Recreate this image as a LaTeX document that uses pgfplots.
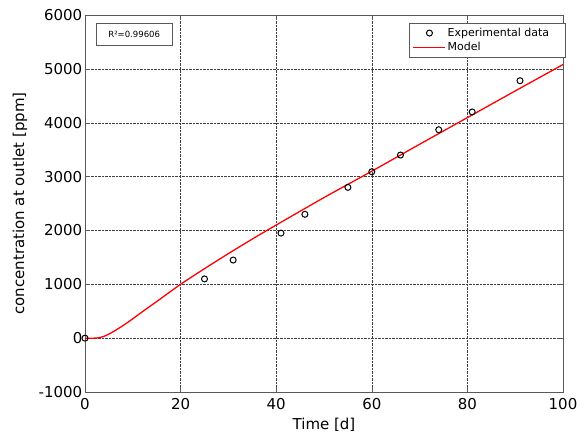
\documentclass[border=0pt]{standalone}
\usepackage{pgfplots}
\pgfplotsset{compat=1.18}
\usetikzlibrary{calc}
\usepackage{fontspec}
\setmainfont{DejaVu Sans}

\begin{document}
\begin{tikzpicture}
\begin{axis}[
    scale only axis,
    width=478pt, height=377pt,
    xmin=0, xmax=100,
    ymin=-1000, ymax=6000,
    xtick={0,20,...,100},
    ytick={-1000,0,...,6000},
    tick align=inside,
    tick pos=both,
    major tick length=5pt,
    grid=major,
    major grid style={densely dotted, black!75},
    axis line style={black!65},
    every tick/.style={black!65},
    xlabel={Time [d]},
    ylabel={concentration at outlet [ppm]},
    label style={font=\fontsize{15}{17}\selectfont},
    tick label style={font=\fontsize{15}{17}\selectfont},
    xticklabel style={inner sep=1pt, yshift=-5pt},
    yticklabel style={inner sep=2.5pt},
    xlabel style={at={(rel axis cs:0.5,0)}, yshift=-33pt, anchor=center},
    ylabel style={at={(rel axis cs:0,0.5)}, yshift=65pt, anchor=center},
    /pgf/number format/assume math mode=true,
    /pgf/number format/1000 sep={},
    legend style={at={(rel axis cs:1.004,0.979)}, anchor=north east,
        font=\fontsize{11}{13}\selectfont, draw=black!65,
        inner xsep=4pt, inner ysep=3.5pt, row sep=1.5pt,
        nodes={inner sep=1.5pt}},
    legend cell align=left,
]
% experimental data
\addplot[only marks, mark=o, mark size=3pt, black, line width=1pt,
    legend image code/.code={\draw[black, line width=1pt] (16pt,0pt) circle (3pt);
        \path[draw=none] (0pt,0pt) -- (32pt,0pt);}]
    coordinates {
    (0,0) (25,1100) (31,1450) (41,1950) (46,2300) (55,2800)
    (60,3090) (66,3400) (74,3870) (81,4200) (91,4780)
};
\addlegendentry{Experimental data\kern10pt}
% model
\addplot[red, line width=1.3pt, smooth, tension=0.4,
    legend image code/.code={\draw[red, line width=1.3pt] (0pt,0pt) -- (32pt,0pt);}]
    coordinates {
    (0,0) (2,0) (3,10) (4,35) (5,75) (6,125) (8,235) (10,360) (12,490)
    (15,680) (20,1000) (25,1290) (30,1570) (35,1840) (40,2100)
    (50,2610) (60,3100) (70,3600) (80,4095) (90,4590) (100,5080)
};
\addlegendentry{Model}
\node[draw=black!65, fill=white, anchor=north west, minimum width=76pt,
    minimum height=22pt, font=\fontsize{8.5}{10}\selectfont]
    at (rel axis cs:0.023,0.979) {R²=0.99606};
\end{axis}
\pgfresetboundingbox
\path ($(current axis.south west)+(-85pt,-42pt)$) rectangle
      ($(current axis.south west)+(501pt,392pt)$);
\end{tikzpicture}
\end{document}
